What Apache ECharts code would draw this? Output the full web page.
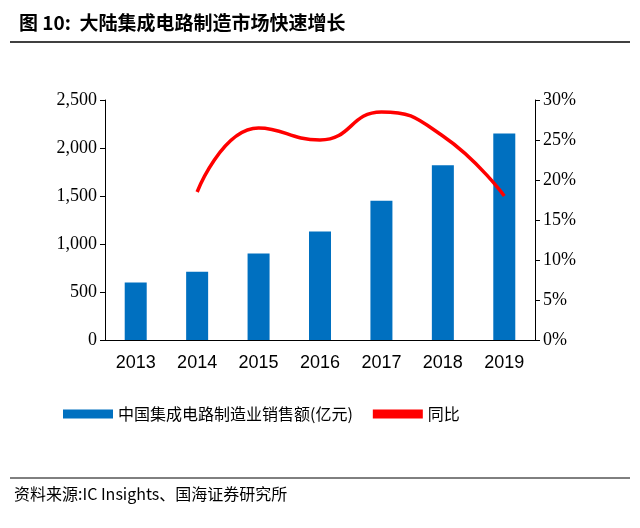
<!DOCTYPE html>
<html><head><meta charset="utf-8">
<script src="https://cdn.jsdelivr.net/npm/echarts@6/dist/echarts.min.js"></script>
<style>body{margin:0;background:#fff}#c{width:640px;height:528px}</style>
</head><body><div id="c"></div>
<script>
var years = ['2013', '2014', '2015', '2016', '2017', '2018', '2019'];
var sales = [600, 710, 900, 1130, 1450, 1820, 2150];
var growth = [null, 18.5, 26.5, 25.0, 28.5, 25.5, 18.0];

var myChart = echarts.init(document.getElementById('c'));
var font = '"Times New Roman", "Liberation Serif", serif';
myChart.setOption({
    backgroundColor: '#fff',
    title: {
        text: '图 10:  大陆集成电路制造市场快速增长',
        left: 14, top: 8,
        textStyle: {fontSize: 19, fontWeight: 'bold', color: '#000', fontFamily: '"Noto Sans CJK SC"'}
    },
    graphic: [
        {type: 'line', shape: {x1: 10, y1: 42, x2: 630, y2: 42}, style: {stroke: '#000', lineWidth: 1.5}},
        {type: 'line', shape: {x1: 10, y1: 478, x2: 630, y2: 478}, style: {stroke: '#000', lineWidth: 1}},
        {type: 'text', left: 14, top: 486, style: {text: '资料来源:IC Insights、国海证券研究所', fontSize: 16, fill: '#000', fontFamily: '"Noto Sans CJK SC"'}}
    ],
    legend: {
        top: 401, left: 58, itemGap: 20, itemWidth: 50, itemHeight: 9,
        textStyle: {fontSize: 16, color: '#000', fontFamily: '"Noto Sans CJK SC"'},
        data: [{name: '中国集成电路制造业销售额(亿元)', icon: 'rect'}, {name: '同比', icon: 'rect', itemStyle: {color: '#ff0000'}}]
    },
    grid: {left: 105, right: 105, top: 100, bottom: 188},
    xAxis: {
        type: 'category', data: years,
        axisLine: {lineStyle: {color: '#000'}}, axisTick: {show: false},
        axisLabel: {fontSize: 18, color: '#000', fontFamily: '"Liberation Sans"', margin: 14}
    },
    yAxis: [{
        type: 'value', min: 0, max: 2500, interval: 500,
        axisLine: {show: true, lineStyle: {color: '#000'}}, axisTick: {show: true}, splitLine: {show: false},
        axisLabel: {fontSize: 18, color: '#000', fontFamily: font, formatter: function (v) { return v.toLocaleString('en-US'); }}
    }, {
        type: 'value', min: 0, max: 30, interval: 5,
        axisLine: {show: true, lineStyle: {color: '#000'}}, axisTick: {show: true}, splitLine: {show: false},
        axisLabel: {fontSize: 18, color: '#000', fontFamily: font, formatter: '{value}%'}
    }],
    series: [{
        name: '中国集成电路制造业销售额(亿元)', type: 'bar', data: sales, barWidth: 22,
        itemStyle: {color: '#0070c0'}
    }, {
        name: '同比', type: 'line', yAxisIndex: 1, data: growth, smooth: 0.5, symbol: 'none',
        lineStyle: {color: '#ff0000', width: 3.5}, itemStyle: {color: '#ff0000'}
    }]
});
</script></body></html>
